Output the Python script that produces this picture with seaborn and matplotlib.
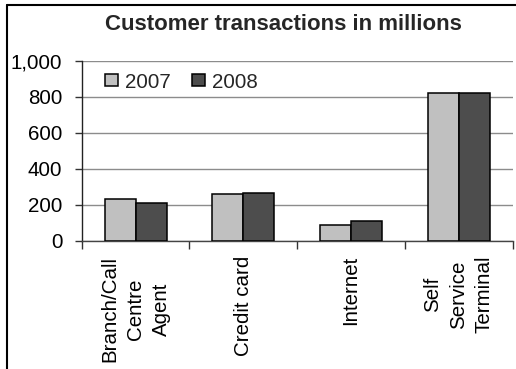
import matplotlib
matplotlib.use("Agg")
import matplotlib.pyplot as plt
import seaborn as sns
import pandas as pd
import numpy as np
from matplotlib.lines import Line2D
from matplotlib.ticker import FuncFormatter, FixedLocator

categories = ["Branch/Call\nCentre\nAgent", "Credit card", "Internet", "Self\nService\nTerminal"]
years = ["2007", "2008"]
values_2007 = [234, 257, 87, 822]
values_2008 = [212, 267, 111, 822]
colors = ["#C0C0C0", "#4D4D4D"]

rows = []
for c, v7, v8 in zip(categories, values_2007, values_2008):
    rows.append({"cat": c, "year": years[0], "val": v7})
    rows.append({"cat": c, "year": years[1], "val": v8})
df = pd.DataFrame(rows)

sns.set_theme(style="white")
plt.rcParams["font.family"] = ["Liberation Sans", "DejaVu Sans"]

fig = plt.figure(figsize=(5.16, 3.69), dpi=100)
W, H = 516, 369
ax = fig.add_axes([81.7 / W, 1 - 240.7 / H, (512.5 - 81.7) / W, (240.7 - 60.7) / H])

sns.barplot(data=df, x="cat", y="val", hue="year", order=categories, hue_order=years,
            palette=colors, width=0.576, edgecolor="black", linewidth=1.1,
            saturation=1, ax=ax, zorder=3)

ax.set_ylim(0, 1000)
ax.set_xlim(-0.5, len(categories) - 0.5)
ax.set_yticks(np.arange(0, 1001, 200))
ax.yaxis.set_major_formatter(FuncFormatter(lambda v, p: f"{int(v):,}"))
ax.grid(axis="y", color="#8C8C8C", linewidth=1.0, zorder=0)
ax.set_axisbelow(True)

# category boundaries as major ticks, labels on minor ticks
ax.xaxis.set_major_locator(FixedLocator(np.arange(-0.5, len(categories), 1.0)))
ax.xaxis.set_major_formatter(FuncFormatter(lambda v, p: ""))
ax.xaxis.set_minor_locator(FixedLocator(np.arange(len(categories))))
ax.set_xticklabels(categories, minor=True, rotation=90, fontsize=14.8,
                   multialignment="center", linespacing=1.45)
ax.tick_params(axis="x", which="major", length=6, width=1, direction="out", bottom=True)
ax.tick_params(axis="x", which="minor", length=0, pad=11, bottom=True)
ax.tick_params(axis="y", length=5, width=1, direction="out", left=True,
               labelsize=14.8, pad=9)
ax.tick_params(axis="both", which="both", color="#333333", labelcolor="black")

ax.set_xlabel("")
ax.set_ylabel("")
for s in ["top", "right"]:
    ax.spines[s].set_visible(False)
ax.spines["left"].set_color("#222222")
ax.spines["bottom"].set_color("#444444")
ax.spines["left"].set_linewidth(1.0)
ax.spines["bottom"].set_linewidth(1.0)

handles, labels = ax.get_legend_handles_labels()
ax.legend(handles, labels, loc="upper left", bbox_to_anchor=((105 - 81.7) / (512.5 - 81.7), 1 - (72.5 - 60.7) / 180.0),
          ncol=2, frameon=False, fontsize=14.8, handlelength=0.62, handleheight=0.55,
          handletextpad=0.35, columnspacing=1.05, borderpad=0, borderaxespad=0)

fig.text(283 / W, 1 - 24.5 / H, "Customer transactions in millions", ha="center", va="center",
         fontsize=16, fontweight="bold")

# figure border (top and left visible)
fig.add_artist(Line2D([7 / W, 1.0], [1 - 5 / H, 1 - 5 / H], transform=fig.transFigure,
                      color="black", linewidth=1.5))
fig.add_artist(Line2D([7 / W, 7 / W], [0.0, 1 - 5 / H], transform=fig.transFigure,
                      color="black", linewidth=1.5))

fig.savefig("out.png", dpi=100)
